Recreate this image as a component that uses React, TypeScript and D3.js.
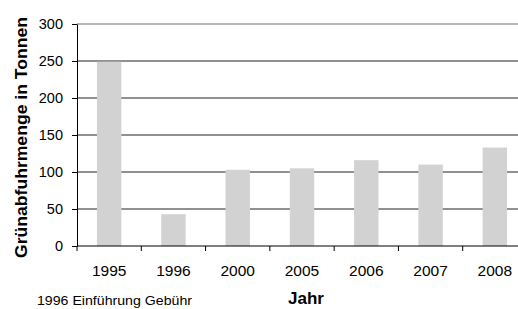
import { useEffect, useRef } from 'react';
import * as d3 from 'd3';

const years = ['1995', '1996', '2000', '2005', '2006', '2007', '2008'];
const tonnes = [249, 43, 103, 105, 116, 110, 133];
const yTicks = [0, 50, 100, 150, 200, 250, 300];

const W = 518;
const H = 309;

export default function App() {
    const svgRef = useRef<SVGSVGElement>(null);

    useEffect(() => {
        if (!svgRef.current) return;
        const svg = d3.select(svgRef.current);
        svg.selectAll('*').remove();

        const margin = { top: 24, left: 77 };
        const innerWidth = 450;
        const innerHeight = 222;
        const font = 'Liberation Sans, Arial, sans-serif';

        const x = d3.scaleBand<string>().domain(years).range([0, innerWidth]).paddingInner(0.62).paddingOuter(0.31);
        const y = d3.scaleLinear().domain([0, 300]).range([innerHeight, 0]);

        const g = svg.append('g').attr('transform', `translate(${margin.left},${margin.top})`);

        // gridlines
        g.selectAll('.grid')
            .data(yTicks.filter(t => t > 0 && t < 300))
            .enter()
            .append('line')
            .attr('x1', 0)
            .attr('x2', innerWidth)
            .attr('y1', d => y(d))
            .attr('y2', d => y(d))
            .attr('stroke', '#222')
            .attr('stroke-width', 1);

        // top border
        g.append('line')
            .attr('x1', 0).attr('x2', innerWidth)
            .attr('y1', y(300)).attr('y2', y(300))
            .attr('stroke', '#b4b4b4').attr('stroke-width', 2);

        // bars
        g.selectAll('.bar')
            .data(years)
            .enter()
            .append('rect')
            .attr('x', d => x(d)!)
            .attr('width', x.bandwidth())
            .attr('y', (_d, i) => y(tonnes[i]))
            .attr('height', (_d, i) => innerHeight - y(tonnes[i]))
            .attr('fill', '#d2d2d2');

        // y axis
        const yAxis = g.append('g').call(d3.axisLeft(y).tickValues(yTicks).tickSize(5).tickSizeOuter(0));
        yAxis.select('.domain').attr('stroke', '#000');
        yAxis.selectAll('line').attr('stroke', '#000');
        yAxis.selectAll('text').attr('font-family', font).attr('font-size', 14.5).attr('fill', '#000').attr('x', -14);

        // x axis
        const step = x.step();
        const xAxis = g.append('g').attr('transform', `translate(0,${innerHeight})`);
        xAxis.append('line').attr('x1', 0).attr('x2', innerWidth).attr('stroke', '#000');
        xAxis.selectAll('.tk')
            .data(d3.range(years.length + 1))
            .enter()
            .append('line')
            .attr('x1', i => i * step)
            .attr('x2', i => i * step)
            .attr('y1', 0)
            .attr('y2', 5)
            .attr('stroke', '#000');
        xAxis.selectAll('.lbl')
            .data(years)
            .enter()
            .append('text')
            .attr('x', d => x(d)! + x.bandwidth() / 2)
            .attr('y', 30)
            .attr('text-anchor', 'middle')
            .attr('font-family', font)
            .attr('font-size', 15.5)
            .text(d => d);

        // axis titles
        svg.append('text')
            .attr('transform', `translate(27,137.5) rotate(-90)`)
            .attr('text-anchor', 'middle')
            .attr('font-family', font)
            .attr('font-size', 16)
            .attr('font-weight', 'bold')
            .attr('textLength', 241)
            .attr('lengthAdjust', 'spacingAndGlyphs')
            .text('Grünabfuhrmenge in Tonnen');

        svg.append('text')
            .attr('x', 306)
            .attr('y', 304)
            .attr('text-anchor', 'middle')
            .attr('font-family', font)
            .attr('font-size', 17)
            .attr('font-weight', 'bold')
            .text('Jahr');

        svg.append('text')
            .attr('x', 37)
            .attr('y', 305)
            .attr('font-family', font)
            .attr('font-size', 13)
            .attr('textLength', 155)
            .attr('lengthAdjust', 'spacingAndGlyphs')
            .text('1996 Einführung Gebühr');
    }, []);

    return (
        <svg
            ref={svgRef}
            width={W}
            height={H}
            style={{ position: 'absolute', left: 0, top: 0, background: '#fff' }}
        />
    );
}
